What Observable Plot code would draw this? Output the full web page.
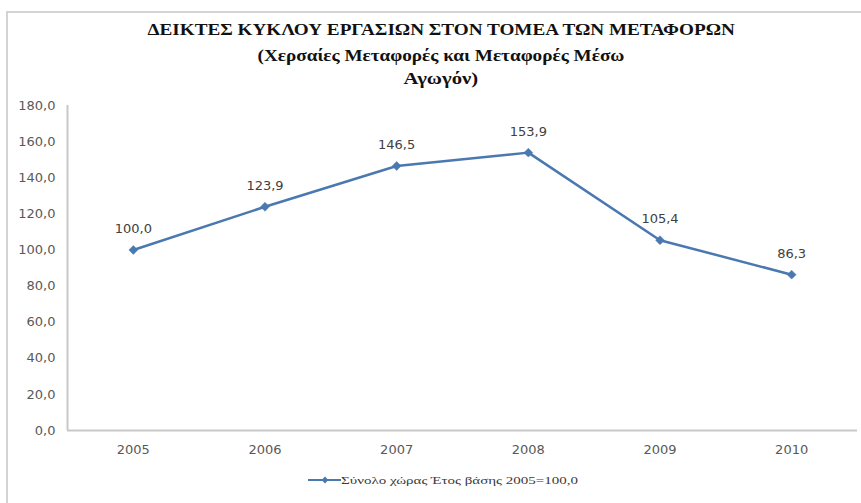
<!DOCTYPE html>
<html>
<head>
<meta charset="utf-8">
<script src="https://cdn.jsdelivr.net/npm/d3@7"></script>
<script src="https://cdn.jsdelivr.net/npm/@observablehq/plot@0.6"></script>
<style>
  html, body { margin: 0; padding: 0; background: #ffffff; }
  #wrap { position: relative; width: 861px; height: 503px; overflow: hidden; background: #fff; }
  #frame { position: absolute; left: 6px; top: 11px; width: 900px; height: 600px;
           border-left: 2px solid #d4d4d4; border-top: 2px solid #d4d4d4; }
  .t { position: absolute; white-space: nowrap; font-family: "Liberation Serif", "DejaVu Serif", serif;
       font-weight: bold; font-size: 16px; line-height: 16px; color: #111111; transform-origin: center; }
  #chart { position: absolute; left: 0; top: 0; }
  #legend { position: absolute; left: 308px; top: 473px; height: 14px; }
  #legend svg { position: absolute; left: 0; top: 2px; }
  #legtext { position: absolute; white-space: nowrap; font-family: "Liberation Serif", "DejaVu Serif", serif;
             font-size: 11px; line-height: 11px; color: #3a3a3a; transform-origin: left center; }
</style>
</head>
<body>
<div id="wrap">
  <div id="frame"></div>
  <div id="chart"></div>
  <div id="titles"></div>
  <div id="legend"></div>
</div>
<script>
// ---- data ----
const years = [2005, 2006, 2007, 2008, 2009, 2010];
const values = [100.0, 123.9, 146.5, 153.9, 105.4, 86.3];
const yTicks = [0, 20, 40, 60, 80, 100, 120, 140, 160, 180];
const titleLines = [
  "ΔΕΙΚΤΕΣ ΚΥΚΛΟΥ ΕΡΓΑΣΙΩΝ ΣΤΟΝ ΤΟΜΕΑ ΤΩΝ ΜΕΤΑΦΟΡΩΝ",
  "(Χερσαίες Μεταφορές και Μεταφορές Μέσω",
  "Αγωγόν)"
];
const seriesLabel = "Σύνολο χώρας Έτος βάσης 2005=100,0";

const data = years.map((year, i) => ({year, value: values[i]}));
const fmt = v => v.toFixed(1).replace(".", ",");
const lineColor = "#4a78b0";

const chart = Plot.plot({
  width: 861,
  height: 503,
  marginTop: 105,
  marginBottom: 73,
  marginLeft: 67,
  marginRight: 4,
  style: {fontFamily: "DejaVu Sans", fontSize: "13px", color: "#595959", background: "transparent"},
  x: {domain: [2004.5, 2010.5]},
  y: {domain: [0, 180]},
  marks: [
    Plot.axisX({ticks: years, tickFormat: d => String(d), tickSize: 0, tickPadding: 14, label: null}),
    Plot.axisY({ticks: yTicks, tickFormat: fmt, tickSize: 0, tickPadding: 12, label: null}),
    Plot.ruleY([0], {stroke: "#c8c8c8", strokeWidth: 2}),
    Plot.ruleX([2004.5], {stroke: "#c8c8c8", strokeWidth: 2}),
    Plot.line(data, {x: "year", y: "value", stroke: lineColor, strokeWidth: 2.5}),
    Plot.dot(data, {x: "year", y: "value", symbol: "diamond2", r: 4, fill: lineColor, stroke: lineColor, strokeWidth: 0.5}),
    Plot.text(data, {x: "year", y: "value", text: d => fmt(d.value), dy: -21, fill: "#404040"})
  ]
});
document.getElementById("chart").appendChild(chart);

// ---- titles ----
const titleTops = [22, 48, 71];
const titleWidths = [587, 367, 75];
const titles = document.getElementById("titles");
titleLines.forEach((txt, i) => {
  const el = document.createElement("div");
  el.className = "t";
  el.textContent = txt;
  el.style.top = titleTops[i] + "px";
  titles.appendChild(el);
  const w = el.offsetWidth;
  el.style.left = (441 - w / 2) + "px";
  el.style.transform = `scaleX(${titleWidths[i] / w})`;
});

// ---- legend ----
const legend = document.getElementById("legend");
legend.innerHTML = `<svg width="34" height="10"><line x1="0" y1="5" x2="33" y2="5" stroke="${lineColor}" stroke-width="2"/><path d="${d3.symbol(d3.symbolDiamond2, 30)()}" transform="translate(17,5)" fill="${lineColor}"/></svg>`;
const lt = document.createElement("div");
lt.id = "legtext";
lt.textContent = seriesLabel;
lt.style.left = "33px";
lt.style.top = "2px";
legend.appendChild(lt);
const lw = lt.offsetWidth;
lt.style.transform = `scaleX(${237 / lw})`;
</script>
</body>
</html>
